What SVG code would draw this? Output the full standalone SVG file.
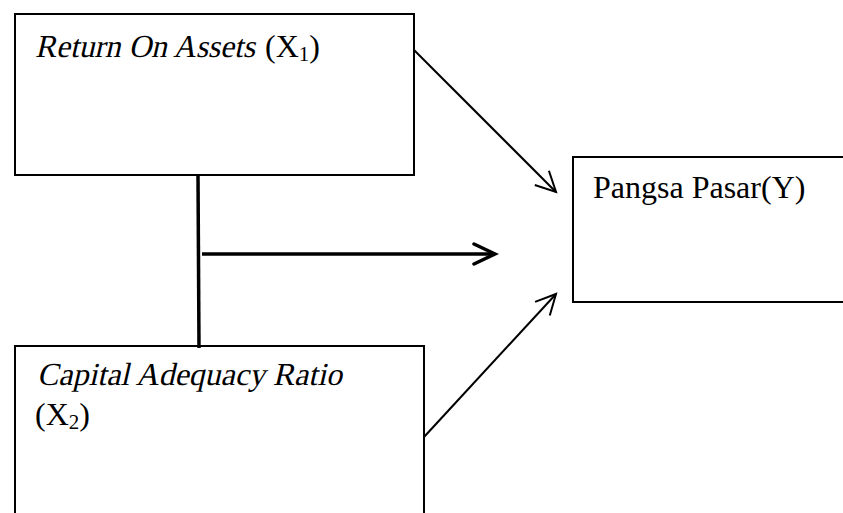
<svg xmlns="http://www.w3.org/2000/svg" width="843" height="513" viewBox="0 0 843 513">
<style>
.box{fill:#fff;stroke:#000;stroke-width:2}
.t{font-family:"Liberation Serif","Times New Roman",serif;font-size:32px;fill:#000}
.sub{font-size:21px}
.thin{stroke:#000;stroke-width:2;fill:none}
.thick{stroke:#000;stroke-width:3.5;fill:none}
</style>
<defs>
<marker id="ah" markerUnits="userSpaceOnUse" viewBox="-24 -13 28 26" markerWidth="28" markerHeight="26" refX="0" refY="0" orient="auto">
<path d="M-20,-10 L0,0 L-20,10" fill="none" stroke="#000" stroke-width="2" stroke-linejoin="miter"/>
</marker>
<marker id="ahb" markerUnits="userSpaceOnUse" viewBox="-26 -14 30 28" markerWidth="30" markerHeight="28" refX="-1" refY="0" orient="auto">
<path d="M-21,-10 L0,0 L-21,10" fill="none" stroke="#000" stroke-width="3.5" stroke-linecap="round"/>
</marker>
</defs>
<rect width="843" height="513" fill="#fff"/>
<g id="x1">
<rect class="box" x="15" y="14" width="399" height="161"/>
<text class="t" transform="translate(35,57) skewX(-13)" x="0" y="0" textLength="220" lengthAdjust="spacingAndGlyphs">Return On Assets</text>
<text class="t" x="265" y="57">(X<tspan class="sub" dy="4">1</tspan><tspan dy="-4">)</tspan></text>
</g>
<g id="y">
<rect class="box" x="573" y="157" width="280" height="145"/>
<text class="t" x="593" y="198">Pangsa Pasar(Y)</text>
</g>
<g id="x2">
<rect class="box" x="15" y="346" width="409" height="180"/>
<text class="t" transform="translate(37,385) skewX(-13)" x="0" y="0" textLength="305" lengthAdjust="spacingAndGlyphs">Capital Adequacy Ratio</text>
<text class="t" x="35" y="425">(X<tspan class="sub" dy="4">2</tspan><tspan dy="-4">)</tspan></text>
</g>
<g id="connectors">
<line class="thick" x1="198" y1="175" x2="199" y2="348"/>
<line class="thick" x1="202" y1="254" x2="494" y2="254" marker-end="url(#ahb)"/>
<line class="thin" x1="414" y1="50" x2="556" y2="192" marker-end="url(#ah)"/>
<line class="thin" x1="424" y1="437" x2="556" y2="294" marker-end="url(#ah)"/>
</g>
</svg>
